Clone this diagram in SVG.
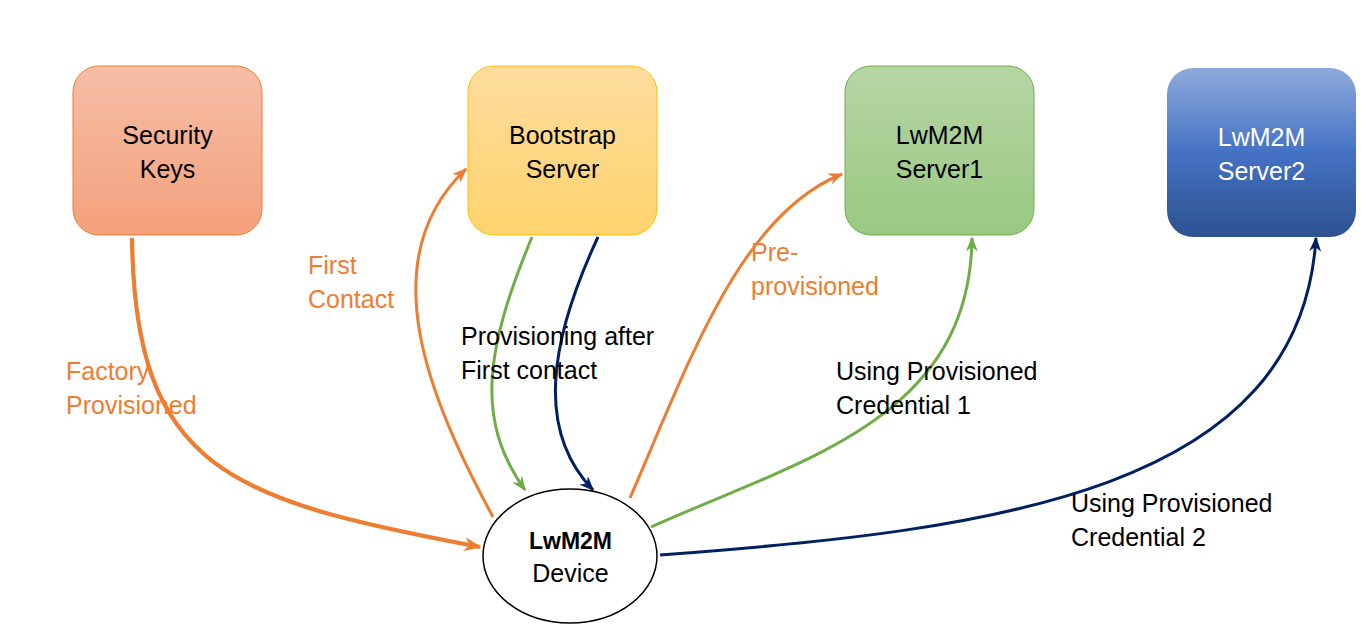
<svg xmlns="http://www.w3.org/2000/svg" width="1367" height="631" viewBox="0 0 1367 631">
<defs>
<linearGradient id="gSec" x1="0" y1="0" x2="0" y2="1"><stop offset="0" stop-color="#F6BEA7"/><stop offset="1" stop-color="#F4A07B"/></linearGradient>
<linearGradient id="gBoot" x1="0" y1="0" x2="0" y2="1"><stop offset="0" stop-color="#FFDC9E"/><stop offset="1" stop-color="#FFD36E"/></linearGradient>
<linearGradient id="gS1" x1="0" y1="0" x2="0" y2="1"><stop offset="0" stop-color="#B6D6A4"/><stop offset="1" stop-color="#9AC883"/></linearGradient>
<linearGradient id="gS2" x1="0" y1="0" x2="0" y2="1"><stop offset="0" stop-color="#8FAADC"/><stop offset="0.5" stop-color="#4472C4"/><stop offset="1" stop-color="#2E5190"/></linearGradient>
<marker id="aO" viewBox="0 0 10 8" refX="9" refY="4" markerWidth="5" markerHeight="4" orient="auto" markerUnits="strokeWidth"><path d="M0,0 L10,4 L0,8 L3,4 z" fill="#ED7D31"/></marker>
<marker id="aOb" viewBox="0 0 10 8" refX="9" refY="4" markerWidth="4.2" markerHeight="3.4" orient="auto" markerUnits="strokeWidth"><path d="M0,0 L10,4 L0,8 L3,4 z" fill="#ED7D31"/></marker>
<marker id="aG" viewBox="0 0 10 8" refX="9" refY="4" markerWidth="5" markerHeight="4" orient="auto" markerUnits="strokeWidth"><path d="M0,0 L10,4 L0,8 L3,4 z" fill="#70AD47"/></marker>
<marker id="aN" viewBox="0 0 10 8" refX="9" refY="4" markerWidth="5" markerHeight="4" orient="auto" markerUnits="strokeWidth"><path d="M0,0 L10,4 L0,8 L3,4 z" fill="#002060"/></marker>
</defs>
<style>
text{font-family:"Liberation Sans",Arial,sans-serif;font-size:25px;}
.nt{text-anchor:middle;fill:#000;}
.lo{fill:#ED7D31;}
.lb{fill:#000;}
.c{fill:none;stroke-width:3;}
.o{stroke:#ED7D31;}
.g{stroke:#70AD47;}
.n{stroke:#002060;}
.thick{stroke-width:4.2;}
</style>
<rect width="1367" height="631" fill="#fff"/>
<g id="connectors">
<path class="c o thick" d="M132,238 C135,470 230,500 480,547" marker-end="url(#aOb)"/>
<path class="c o" d="M493,517 C430,400 370,260 466,169" marker-end="url(#aO)"/>
<path class="c g" d="M532,237 C485,350 475,420 525,490" marker-end="url(#aG)"/>
<path class="c n" d="M598,237 C550,340 535,430 593,490" marker-end="url(#aN)"/>
<path class="c o" d="M630,498 C690,360 740,215 842,174" marker-end="url(#aO)"/>
<path class="c g" d="M651,527 C800,460 970,420 972,238" marker-end="url(#aG)"/>
<path class="c n" d="M660,555 C1000,530 1300,490 1316,238" marker-end="url(#aN)"/>
</g>
<g id="security-keys">
<rect x="73" y="66" width="189" height="169" rx="26" fill="url(#gSec)" stroke="#ED7D31" stroke-width="1"/>
<text class="nt" x="167.5" y="144">Security</text>
<text class="nt" x="167.5" y="178">Keys</text>
</g>
<g id="bootstrap-server">
<rect x="468" y="66" width="189" height="169" rx="26" fill="url(#gBoot)" stroke="#FFC000" stroke-width="1"/>
<text class="nt" x="562.5" y="144">Bootstrap</text>
<text class="nt" x="562.5" y="178">Server</text>
</g>
<g id="lwm2m-server1">
<rect x="845" y="66" width="189" height="169" rx="26" fill="url(#gS1)" stroke="#70AD47" stroke-width="1"/>
<text class="nt" x="939.5" y="144">LwM2M</text>
<text class="nt" x="939.5" y="178">Server1</text>
</g>
<g id="lwm2m-server2">
<rect x="1167" y="68" width="189" height="169" rx="26" fill="url(#gS2)"/>
<text class="nt" x="1261.5" y="146" style="fill:#fff">LwM2M</text>
<text class="nt" x="1261.5" y="180" style="fill:#fff">Server2</text>
</g>
<g id="lwm2m-device">
<ellipse cx="570" cy="556" rx="87" ry="67" fill="#fff" stroke="#000" stroke-width="1.5"/>
<text class="nt" x="570.5" y="549" font-weight="bold" style="font-size:23px">LwM2M</text>
<text class="nt" x="570.5" y="582">Device</text>
</g>
<g id="labels">
<text class="lo" x="66" y="380">Factory</text>
<text class="lo" x="66" y="414">Provisioned</text>
<text class="lo" x="308" y="274">First</text>
<text class="lo" x="308" y="308">Contact</text>
<text class="lb" x="461" y="345">Provisioning after</text>
<text class="lb" x="461" y="379">First contact</text>
<text class="lo" x="751" y="261">Pre-</text>
<text class="lo" x="751" y="295">provisioned</text>
<text class="lb" x="836" y="380">Using Provisioned</text>
<text class="lb" x="836" y="414">Credential 1</text>
<text class="lb" x="1071" y="512">Using Provisioned</text>
<text class="lb" x="1071" y="546">Credential 2</text>
</g>
</svg>
